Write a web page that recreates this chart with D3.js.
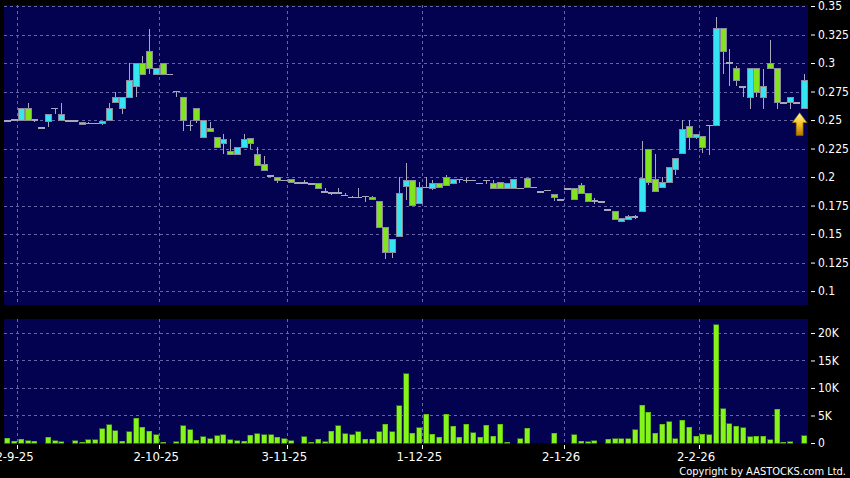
<!DOCTYPE html>
<html>
<head>
<meta charset="utf-8">
<script src="https://cdn.jsdelivr.net/npm/d3@7"></script>
<style>
body { margin: 0; background: #000; }
svg text { font-family: "DejaVu Sans Condensed", "DejaVu Sans", sans-serif; font-stretch: condensed; fill: #fff; }
</style>
</head>
<body>
<svg id="chart" width="850" height="478"></svg>
<script>
// daily OHLC, one entry per trading day (late Aug 2025 .. late Feb 2026)
const open = [
    0.249, 0.25, 0.25, 0.26, 0.25, 0.243, 0.249, 0.26, 0.25, 0.249,
    0.249, 0.248, 0.247, 0.247, 0.247, 0.25, 0.265, 0.26, 0.27, 0.279,
    0.3, 0.31, 0.29, 0.3, 0.29, 0.275, 0.27, 0.245, 0.26, 0.235,
    0.243, 0.235, 0.229, 0.222, 0.22, 0.226, 0.234, 0.22, 0.211, 0.201,
    0.2, 0.197, 0.198, 0.195, 0.195, 0.194, 0.194, 0.187, 0.186, 0.186,
    0.184, 0.182, 0.182, 0.183, 0.182, 0.179, 0.156, 0.134, 0.148, 0.192,
    0.197, 0.177, 0.191, 0.19, 0.194, 0.2, 0.194, 0.198, 0.197, 0.197,
    0.1945, 0.197, 0.194, 0.195, 0.19, 0.19, 0.19, 0.199, 0.191, 0.187,
    0.188, 0.185, 0.18, 0.1895, 0.19, 0.193, 0.186, 0.179, 0.178, 0.171,
    0.17, 0.161, 0.163, 0.165, 0.17, 0.224, 0.198, 0.191, 0.195, 0.207,
    0.221, 0.244, 0.235, 0.236, 0.245, 0.245, 0.33, 0.3, 0.295, 0.279,
    0.27, 0.295, 0.27, 0.3, 0.295, 0.265, 0.265, 0.265, 0.26
];
const high = [
    0.249, 0.251, 0.26, 0.265, 0.25, 0.243, 0.255, 0.26, 0.265, 0.249,
    0.249, 0.248, 0.248, 0.247, 0.249, 0.265, 0.275, 0.27, 0.3, 0.3,
    0.306, 0.33, 0.295, 0.3, 0.29, 0.275, 0.27, 0.249, 0.26, 0.25,
    0.2485, 0.235, 0.238, 0.233, 0.226, 0.238, 0.234, 0.226, 0.2185, 0.201,
    0.2, 0.197, 0.198, 0.195, 0.197, 0.194, 0.194, 0.19, 0.187, 0.19,
    0.186, 0.1835, 0.19, 0.183, 0.1835, 0.179, 0.156, 0.145, 0.2, 0.2126,
    0.197, 0.196, 0.2, 0.197, 0.194, 0.2018, 0.198, 0.198, 0.199, 0.197,
    0.1945, 0.197, 0.197, 0.195, 0.194, 0.198, 0.19, 0.199, 0.191, 0.187,
    0.188, 0.185, 0.18, 0.1895, 0.19, 0.195, 0.186, 0.182, 0.178, 0.171,
    0.17, 0.164, 0.167, 0.167, 0.2316, 0.224, 0.22, 0.2, 0.208, 0.216,
    0.25, 0.25, 0.237, 0.236, 0.245, 0.34, 0.33, 0.312, 0.297, 0.279,
    0.295, 0.295, 0.295, 0.32, 0.295, 0.265, 0.27, 0.265, 0.29
];
const low = [
    0.249, 0.25, 0.249, 0.25, 0.248, 0.243, 0.244, 0.255, 0.25, 0.249,
    0.249, 0.246, 0.247, 0.247, 0.246, 0.249, 0.265, 0.255, 0.27, 0.27,
    0.29, 0.29, 0.29, 0.29, 0.29, 0.27, 0.24, 0.2405, 0.2474, 0.234,
    0.24, 0.226, 0.22, 0.22, 0.22, 0.226, 0.225, 0.21, 0.206, 0.201,
    0.195, 0.197, 0.195, 0.195, 0.195, 0.194, 0.19, 0.187, 0.184, 0.186,
    0.184, 0.182, 0.182, 0.178, 0.18, 0.156, 0.128, 0.1287, 0.148, 0.18,
    0.175, 0.177, 0.191, 0.189, 0.191, 0.193, 0.194, 0.195, 0.195, 0.197,
    0.1945, 0.194, 0.19, 0.19, 0.19, 0.19, 0.19, 0.191, 0.191, 0.187,
    0.188, 0.179, 0.18, 0.1895, 0.18, 0.186, 0.179, 0.176, 0.178, 0.171,
    0.163, 0.161, 0.163, 0.163, 0.17, 0.193, 0.187, 0.191, 0.195, 0.202,
    0.221, 0.225, 0.233, 0.221, 0.219, 0.245, 0.29, 0.28, 0.28, 0.27,
    0.26, 0.27, 0.26, 0.295, 0.26, 0.265, 0.26, 0.265, 0.26
];
const close = [
    0.249, 0.25, 0.26, 0.25, 0.25, 0.243, 0.255, 0.26, 0.255, 0.249,
    0.249, 0.246, 0.247, 0.247, 0.249, 0.26, 0.27, 0.27, 0.285, 0.3,
    0.29, 0.295, 0.295, 0.29, 0.29, 0.275, 0.25, 0.245, 0.25, 0.25,
    0.24, 0.226, 0.233, 0.22, 0.226, 0.233, 0.229, 0.21, 0.206, 0.201,
    0.197, 0.197, 0.195, 0.195, 0.195, 0.194, 0.19, 0.187, 0.186, 0.186,
    0.184, 0.182, 0.182, 0.183, 0.18, 0.156, 0.134, 0.145, 0.186, 0.197,
    0.175, 0.191, 0.191, 0.194, 0.191, 0.193, 0.198, 0.198, 0.197, 0.197,
    0.1945, 0.197, 0.19, 0.19, 0.194, 0.198, 0.19, 0.191, 0.191, 0.187,
    0.188, 0.182, 0.18, 0.1895, 0.18, 0.186, 0.179, 0.179, 0.178, 0.171,
    0.163, 0.164, 0.165, 0.165, 0.199, 0.195, 0.187, 0.195, 0.208, 0.216,
    0.242, 0.235, 0.237, 0.226, 0.245, 0.33, 0.31, 0.3, 0.285, 0.279,
    0.295, 0.274, 0.279, 0.295, 0.265, 0.265, 0.27, 0.265, 0.285
];
const volume = [
    900, 300, 700, 400, 350, 0, 1000, 400, 250, 0,
    400, 100, 600, 600, 2600, 3300, 2200, 300, 2000, 4500,
    2900, 2100, 1500, 100, 0, 250, 3100, 2400, 500, 1100,
    800, 1300, 1500, 600, 400, 350, 1400, 1700, 1500, 1500,
    1000, 800, 450, 0, 1100, 100, 700, 200, 2100, 3100,
    1700, 1500, 2000, 700, 700, 2000, 3400, 2000, 6800, 12600,
    1800, 2800, 5200, 1600, 1000, 5200, 3000, 1000, 3400, 1900,
    1000, 3200, 1200, 3400, 150, 0, 800, 2700, 0, 0,
    0, 1800, 0, 0, 1500, 350, 200, 450, 0, 700,
    800, 800, 800, 2400, 6900, 5600, 1800, 3400, 3900, 800,
    4100, 2900, 1200, 1600, 1500, 21500, 6200, 3500, 3000, 2800,
    1100, 1200, 1200, 600, 6100, 150, 250, 0, 1300
];

// tick labels
const dateTickIdx = [2, 23, 42, 62, 83, 103];
const dateTickLabels = ['2-9-25', '2-10-25', '3-11-25', '1-12-25', '2-1-26', '2-2-26'];
const priceTicks = [0.1, 0.125, 0.15, 0.175, 0.2, 0.225, 0.25, 0.275, 0.3, 0.325, 0.35];
const priceTickLabels = ['0.1', '0.125', '0.15', '0.175', '0.2', '0.225', '0.25', '0.275', '0.3', '0.325', '0.35'];
const volTicks = [0, 5000, 10000, 15000, 20000];
const volTickLabels = ['0', '5K', '10K', '15K', '20K'];

const navy = '#020250';
const gridColor = '#6464a6';
const upColor = '#35e6f2';
const downColor = '#82e41e';
const outline = '#8c8c9c';
const wickColor = '#a8a8b8';

const plotLeft = 4, plotRight = 808;
const priceTop = 5, priceBottom = 305;
const volTop = 319, volBottom = 443;

const n = close.length;
const svg = d3.select('#chart');

const x = d3.scaleBand()
    .domain(d3.range(n))
    .range([plotLeft, 807]);
const cx = i => x(i) + x.bandwidth() / 2;

const y = d3.scaleLinear()
    .domain([0.0878, 0.35])
    .range([priceBottom, 6]);

const yv = d3.scaleLinear()
    .domain([0, 22500])
    .range([volBottom, 319.2]);

// panels
svg.append('rect')
    .attr('x', plotLeft).attr('y', priceTop)
    .attr('width', plotRight - plotLeft).attr('height', priceBottom - priceTop)
    .attr('fill', navy);
svg.append('rect')
    .attr('x', plotLeft).attr('y', volTop)
    .attr('width', plotRight - plotLeft).attr('height', volBottom - volTop)
    .attr('fill', navy);

// grid
const grid = svg.append('g')
    .attr('stroke', gridColor)
    .attr('stroke-dasharray', '3,3')
    .attr('shape-rendering', 'crispEdges');
grid.selectAll('.hp')
    .data(priceTicks)
    .enter().append('line')
    .attr('x1', plotLeft).attr('x2', plotRight)
    .attr('y1', d => Math.round(y(d)) + 0.5)
    .attr('y2', d => Math.round(y(d)) + 0.5);
grid.selectAll('.hv')
    .data(volTicks.filter(d => d > 0))
    .enter().append('line')
    .attr('x1', plotLeft).attr('x2', plotRight)
    .attr('y1', d => Math.round(yv(d)) + 0.5)
    .attr('y2', d => Math.round(yv(d)) + 0.5);
dateTickIdx.forEach(function(i) {
    const gx = Math.round(x(i)) + 0.5;
    grid.append('line').attr('x1', gx).attr('x2', gx).attr('y1', priceTop).attr('y2', priceBottom);
    grid.append('line').attr('x1', gx).attr('x2', gx).attr('y1', volTop).attr('y2', volBottom);
});

// candles
const candles = svg.append('g').attr('shape-rendering', 'crispEdges');
const idx = d3.range(n);

candles.selectAll('.wick')
    .data(idx.filter(i => high[i] > low[i]))
    .enter().append('line')
    .attr('x1', i => Math.round(cx(i)) + 0.5)
    .attr('x2', i => Math.round(cx(i)) + 0.5)
    .attr('y1', i => y(high[i]))
    .attr('y2', i => y(low[i]))
    .attr('stroke', wickColor)
    .attr('stroke-width', 1);

candles.selectAll('.flat')
    .data(idx.filter(i => open[i] === close[i]))
    .enter().append('line')
    .attr('x1', i => cx(i) - 3.5)
    .attr('x2', i => cx(i) + 3.5)
    .attr('y1', i => y(close[i]))
    .attr('y2', i => y(close[i]))
    .attr('stroke', wickColor)
    .attr('stroke-width', 1.5);

candles.selectAll('.body')
    .data(idx.filter(i => open[i] !== close[i]))
    .enter().append('rect')
    .attr('x', i => Math.round(cx(i)) - 2.5)
    .attr('y', i => y(Math.max(open[i], close[i])))
    .attr('width', 6)
    .attr('height', i => Math.max(1.5, y(Math.min(open[i], close[i])) - y(Math.max(open[i], close[i]))))
    .attr('fill', i => close[i] > open[i] ? upColor : downColor)
    .attr('stroke', outline)
    .attr('stroke-width', 1);

// volume bars
svg.append('g')
    .attr('shape-rendering', 'crispEdges')
    .selectAll('rect')
    .data(idx.filter(i => volume[i] > 0))
    .enter().append('rect')
    .attr('x', i => Math.round(cx(i)) - 2.5)
    .attr('y', i => yv(volume[i]))
    .attr('width', 5)
    .attr('height', i => volBottom - yv(volume[i]))
    .attr('fill', '#84f41a')
    .attr('stroke', '#4e9c12')
    .attr('stroke-width', 0.6);

// last-price arrow
const defs = svg.append('defs');
const grad = defs.append('linearGradient')
    .attr('id', 'arrowGrad')
    .attr('x1', 0).attr('y1', 0).attr('x2', 0).attr('y2', 1);
grad.append('stop').attr('offset', '0%').attr('stop-color', '#fff6b0');
grad.append('stop').attr('offset', '45%').attr('stop-color', '#f6c828');
grad.append('stop').attr('offset', '100%').attr('stop-color', '#b87400');

const ax = cx(n - 1) - 4;
const ay = y(low[n - 1]) + 4;
svg.append('path')
    .attr('d', 'M' + ax + ',' + ay +
        ' L' + (ax + 7.5) + ',' + (ay + 10) +
        ' L' + (ax + 3.5) + ',' + (ay + 10) +
        ' L' + (ax + 3.5) + ',' + (ay + 23) +
        ' L' + (ax - 3.5) + ',' + (ay + 23) +
        ' L' + (ax - 3.5) + ',' + (ay + 10) +
        ' L' + (ax - 7.5) + ',' + (ay + 10) + ' Z')
    .attr('fill', 'url(#arrowGrad)')
    .attr('stroke', '#7a5200')
    .attr('stroke-width', 0.6);

// right axes
const priceAxis = d3.axisRight(y)
    .tickValues(priceTicks)
    .tickSize(4)
    .tickPadding(3)
    .tickFormat((d, i) => priceTickLabels[i]);
const gp = svg.append('g')
    .attr('transform', 'translate(811,0)')
    .call(priceAxis);

const volAxis = d3.axisRight(yv)
    .tickValues(volTicks)
    .tickSize(4)
    .tickPadding(3)
    .tickFormat((d, i) => volTickLabels[i]);
const gv = svg.append('g')
    .attr('transform', 'translate(811,0)')
    .call(volAxis);

[gp, gv].forEach(function(g) {
    g.select('.domain').remove();
    g.selectAll('line').attr('stroke', '#fff');
    g.selectAll('text')
        .attr('fill', '#fff')
        .style('font-size', '12px')
        .style('font-family', '"DejaVu Sans Condensed", "DejaVu Sans", sans-serif');
});

// date axis
const dates = svg.append('g');
dates.selectAll('line')
    .data(dateTickIdx)
    .enter().append('line')
    .attr('x1', i => Math.round(x(i)) + 0.5)
    .attr('x2', i => Math.round(x(i)) + 0.5)
    .attr('y1', volBottom + 2)
    .attr('y2', volBottom + 6)
    .attr('stroke', '#fff');
dates.selectAll('text')
    .data(dateTickIdx)
    .enter().append('text')
    .attr('x', i => x(i) - 3)
    .attr('y', 461)
    .attr('text-anchor', 'middle')
    .style('font-size', '13px')
    .text((d, k) => dateTickLabels[k]);

svg.append('text')
    .attr('x', 846)
    .attr('y', 475)
    .attr('text-anchor', 'end')
    .style('font-size', '11px')
    .text('Copyright by AASTOCKS.com Ltd.');
</script>
</body>
</html>
